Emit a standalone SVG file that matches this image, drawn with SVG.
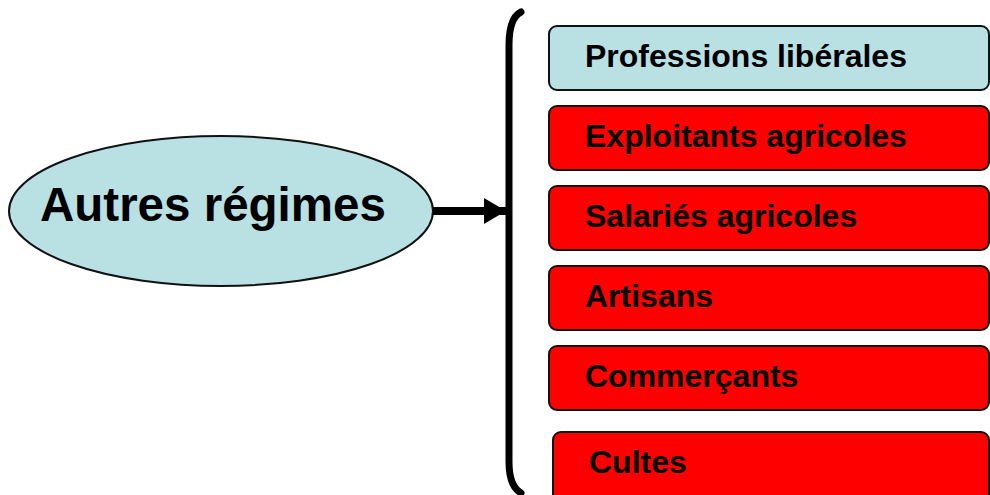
<svg xmlns="http://www.w3.org/2000/svg" width="990" height="495" viewBox="0 0 990 495">
<style>
.box{stroke:#111;stroke-width:2}
.blue{fill:#b9e0e3}
.red{fill:#ff0000}
.t{font-family:"Liberation Sans",Arial,sans-serif;font-weight:bold;fill:#000}
.bt{font-size:32px}
</style>
<defs>
<marker id="ah" markerWidth="22" markerHeight="26" refX="22" refY="13" orient="auto" markerUnits="userSpaceOnUse">
<path d="M0,0 L22,13 L0,26 Z" fill="#000"/>
</marker>
</defs>
<rect width="990" height="495" fill="#fff"/>
<g id="autres">
<ellipse cx="221" cy="211" rx="212" ry="75" class="box blue"/>
<text x="40" y="221" class="t" font-size="47.5">Autres régimes</text>
</g>
<g id="connectors">
<line x1="433" y1="211" x2="506" y2="211" stroke="#000" stroke-width="8" marker-end="url(#ah)"/>
<path d="M521,12 Q509,18 509,45 L509,462 Q509,486 521,493" fill="none" stroke="#000" stroke-width="7" stroke-linecap="round"/>
</g>
<g id="professions">
<rect x="549" y="26" width="440" height="64" rx="8" class="box blue"/>
<text x="585" y="67" class="t bt">Professions libérales</text>
</g>
<g id="exploitants">
<rect x="549" y="106" width="440" height="64" rx="8" class="box red"/>
<text x="585" y="147" class="t bt">Exploitants agricoles</text>
</g>
<g id="salaries">
<rect x="549" y="186" width="440" height="64" rx="8" class="box red"/>
<text x="585" y="227" class="t bt">Salariés agricoles</text>
</g>
<g id="artisans">
<rect x="549" y="266" width="440" height="64" rx="8" class="box red"/>
<text x="585" y="307" class="t bt">Artisans</text>
</g>
<g id="commercants">
<rect x="549" y="346" width="440" height="64" rx="8" class="box red"/>
<text x="585" y="387" class="t bt">Commerçants</text>
</g>
<g id="cultes">
<rect x="553" y="432" width="436" height="72" rx="8" class="box red"/>
<text x="589" y="473" class="t bt">Cultes</text>
</g>
</svg>
